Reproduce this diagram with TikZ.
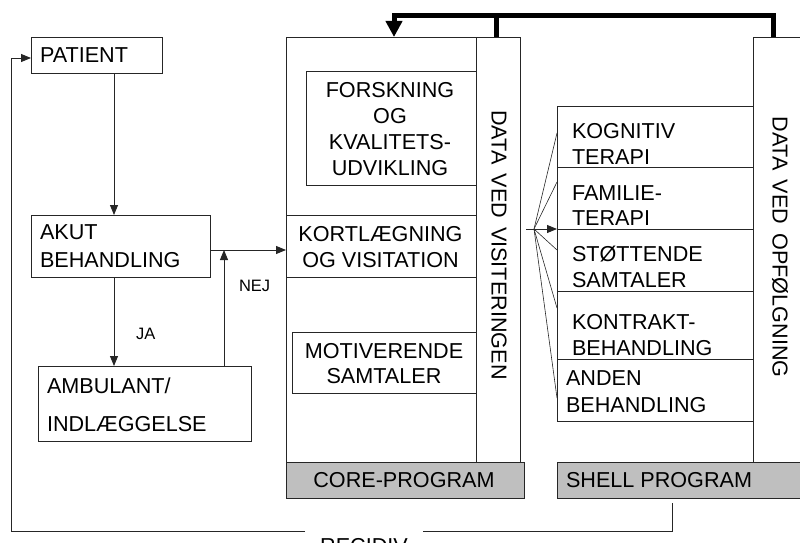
\documentclass[tikz,border=0pt]{standalone}
\usepackage{fontspec}
\setmainfont{Liberation Sans}
\usetikzlibrary{arrows.meta}

\begin{document}
\begin{tikzpicture}[x=1pt,y=-1pt,
  frame/.style={rectangle, draw=black!85, line width=0.9pt, inner sep=0pt, outer sep=0pt, anchor=north west},
  progbar/.style={frame, fill=black!25},
  txt/.style={inner sep=0pt, outer sep=0pt, font=\fontsize{21.6}{26}\selectfont},
  small/.style={inner sep=0pt, outer sep=0pt, font=\fontsize{16.5}{20}\selectfont},
  conn/.style={draw=black!85, line width=0.9pt},
  arr/.style={conn, -{Triangle[length=10pt,width=8pt]}},
  fan/.style={draw=black!85, line width=0.6pt},
  feedback/.style={draw=black, line width=5pt},
]
\useasboundingbox (0,0) rectangle (800,543);
\clip (0,0) rectangle (800,543);

% left-hand patient pathway (multi-line labels are placed by their last baseline)
\node[frame, minimum width=131pt, minimum height=36pt] (patient) at (31,37) {};
\node[frame, minimum width=179pt, minimum height=62pt] (akut) at (31,215) {};
\node[frame, minimum width=213pt, minimum height=75pt] (ambul) at (38,366) {};

\node[txt, anchor=base west] (tpatient) at (40,63) {PATIENT};
\node[txt, anchor=base west, align=left, font=\fontsize{21.6}{28}\selectfont] (takut) at (40,267) {AKUT\\BEHANDLING};
\node[txt, anchor=base west, align=left, font=\fontsize{21.6}{38}\selectfont] (tambul) at (47,431) {AMBULANT/\\INDLÆGGELSE};
\node[small, anchor=base west] (nej) at (239,291) {NEJ};
\node[small, anchor=base west] (ja) at (136,339) {JA};

% core programme
\node[frame, minimum width=234pt, minimum height=425pt] (coreframe) at (286,37) {};
\node[frame, minimum width=44pt, minimum height=425pt] (corecol) at (476,37) {};
\node[frame, minimum width=170pt, minimum height=114pt] (forsk) at (306,71) {};
\node[frame, minimum width=190pt, minimum height=62pt] (kort) at (286,215) {};
\node[frame, minimum width=184pt, minimum height=61pt] (motiv) at (292,332) {};
\node[progbar, minimum width=238pt, minimum height=36pt] (coreprog) at (286,462) {};

\node[txt, anchor=base, align=center] (tforsk) at (390,175) {FORSKNING\\OG\\KVALITETS-\\UDVIKLING};
\node[txt, anchor=base, align=center] (tkort) at (380.5,267) {KORTLÆGNING\\OG VISITATION};
\node[txt, anchor=base, align=center, font=\fontsize{21.6}{25}\selectfont] (tmotiv) at (384,383) {MOTIVERENDE\\SAMTALER};
\node[txt, anchor=base] (tcoreprog) at (404,487) {CORE-PROGRAM};
\node[txt, rotate=-90] (tcorecol) at (499,245) {DATA\hspace{9pt}VED\hspace{9pt}VISITERINGEN};

% shell programme
\node[frame, minimum width=70pt, minimum height=425pt] (shellcol) at (753,37) {};
\node[progbar, minimum width=266pt, minimum height=36pt] (shellprog) at (557,462) {};
\node[frame, minimum width=196pt, minimum height=61pt] (kogn) at (557,106) {};
\node[frame, minimum width=196pt, minimum height=62pt] (famil) at (557,167) {};
\node[frame, minimum width=196pt, minimum height=62pt] (stott) at (557,229) {};
\node[frame, minimum width=196pt, minimum height=68pt] (kontr) at (557,291) {};
\node[frame, minimum width=196pt, minimum height=62pt] (anden) at (557,359) {};

\node[txt, anchor=base west, align=left] (tkogn) at (572,164) {KOGNITIV\\TERAPI};
\node[txt, anchor=base west, align=left, font=\fontsize{21.6}{25}\selectfont] (tfamil) at (572,225) {FAMILIE-\\TERAPI};
\node[txt, anchor=base west, align=left] (tstott) at (572,287) {STØTTENDE\\SAMTALER};
\node[txt, anchor=base west, align=left] (tkontr) at (572,355) {KONTRAKT-\\BEHANDLING};
\node[txt, anchor=base west, align=left, font=\fontsize{21.6}{27}\selectfont] (tanden) at (566,412) {ANDEN\\BEHANDLING};
\node[txt, anchor=base west] (tshellprog) at (566,487) {SHELL PROGRAM};
\node[txt, rotate=-90] (tshellcol) at (780,247) {DATA\hspace{9pt}VED\hspace{9pt}OPFØLGNING};

% patient flow
\coordinate (join) at (224,250);
\draw[arr] (patient.south -| 114,0) -- (akut.north -| 114,0);
\draw[arr] (akut.south -| 114,0) -- (ambul.north -| 114,0);
\draw[arr] (akut.east |- join) -- (kort.west |- join);
\draw[arr] (ambul.north -| join) -- (join);

% referral fan into the shell treatments
\coordinate (hub) at (534,229);
\coordinate (fanin) at (526,229);
\draw[arr] (fanin) -- (famil.south west);
\foreach \t/\yy in {kogn/133, famil/182, stott/250, kontr/308, anden/398}
  \draw[fan] (hub) -- (\t.west |- 0,\yy);

% data feedback loop over the top
\draw[feedback] (corecol.north -| 496,0) -- ++(0,-21);
\draw[feedback, -{Triangle[length=16pt,width=16pt]}] (shellcol.north -| 773,0) -- ++(0,-21) -| (coreframe.north -| 394,0);

% relapse loop back to the patient
\node[txt, anchor=base, inner xsep=15pt] (recidiv) at (364,553) {RECIDIV};
\coordinate (relapse) at (672,503);
\draw[conn] (relapse) |- (recidiv.east |- 0,531);
\draw[arr] (recidiv.west |- 0,531) -| (11,58) -- (patient.west |- 0,58);
\end{tikzpicture}
\end{document}
